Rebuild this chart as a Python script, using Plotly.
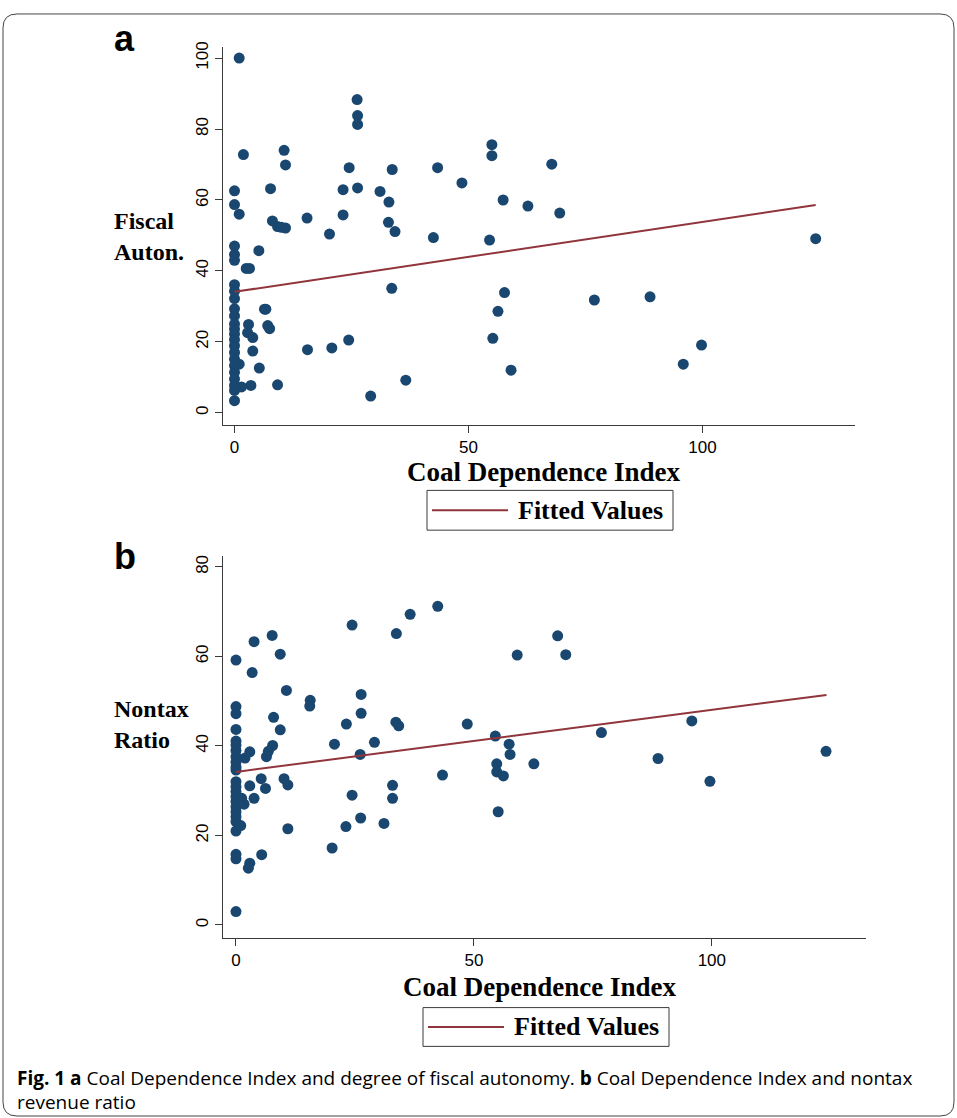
import plotly.graph_objects as go

W, H = 957, 1118

# ---------------- data: panel a ----------------
cdi_a = [0, 0, 0, 0, 0, 0, 0, 0, 0, 0, 0, 0, 0, 0, 0, 0, 0, 0, 0, 0, 0, 0, 0,
         1.0, 1.9, 1.0, 7.7, 8.1, 9.2, 10.0, 10.9, 10.6, 10.9, 15.5, 20.3, 23.2, 23.2,
         24.5, 26.2, 26.3, 26.3, 26.3, 31.1, 33.0, 33.7, 32.9, 34.3, 43.4, 48.6, 42.5,
         55.0, 55.0, 67.8, 57.4, 62.7, 69.5, 54.5, 124.2, 57.7, 56.3, 76.9, 88.8, 55.2,
         59.1, 99.8, 95.9, 5.2, 2.5, 3.2, 33.6, 6.4, 6.7, 3.0, 2.8, 3.9, 7.1, 7.5, 3.9,
         15.6, 20.8, 24.4, 5.3, 1.0, 1.5, 3.5, 9.2, 29.1, 36.6]
fiscal_auton = [62.6, 58.7, 47.0, 44.6, 43.0, 36.1, 34.3, 32.2, 29.3, 27.3, 25.0, 23.6,
                22.2, 20.6, 18.9, 17.0, 15.1, 13.3, 11.4, 9.5, 7.7, 6.3, 3.4,
                100.0, 72.8, 56.0, 63.2, 54.1, 52.5, 52.3, 52.1, 74.0, 69.9, 54.9, 50.4,
                62.9, 55.8, 69.1, 88.3, 83.8, 81.3, 63.4, 62.4, 59.4, 68.6, 53.7, 51.1,
                69.1, 64.8, 49.4, 75.6, 72.5, 70.1, 60.0, 58.3, 56.3, 48.7, 49.1, 33.9,
                28.6, 31.8, 32.7, 21.0, 12.0, 19.1, 13.7, 45.7, 40.7, 40.7, 35.1, 29.2,
                29.2, 24.9, 22.6, 21.2, 24.6, 23.7, 17.4, 17.8, 18.3, 20.5, 12.6, 13.7,
                7.3, 7.7, 7.9, 4.7, 9.2]
fit_a_x = [0, 124.2]
fit_a_y = [34.1, 58.6]

# ---------------- data: panel b ----------------
cdi_b = [0, 0, 0, 0, 0, 0, 0, 0, 0, 0, 0, 0, 0, 0, 0, 0, 0, 0, 0, 0, 0, 0, 0, 0,
         1.0, 1.2, 1.7, 1.9, 2.9, 2.9, 3.8, 5.3, 6.2, 5.4, 2.9, 2.6, 10.9, 10.1, 10.9,
         3.4, 3.8, 9.3, 7.6, 10.6, 7.9, 9.3, 7.7, 6.8, 6.4, 15.6, 15.5, 20.7, 20.2,
         23.1, 23.2, 24.4, 24.4, 26.2, 26.1, 26.3, 26.3, 29.1, 31.1, 32.9, 32.9, 33.6,
         34.2, 33.7, 36.6, 42.4, 43.4, 48.6, 54.5, 54.8, 54.8, 56.2, 55.1, 57.4, 57.6,
         59.1, 62.6, 67.6, 69.3, 76.8, 88.7, 95.8, 99.6, 124.0]
nontax_ratio = [59.2, 48.8, 47.2, 43.7, 41.1, 40.2, 39.0, 37.6, 36.4, 35.3, 34.6, 32.0,
                30.9, 29.8, 28.7, 27.6, 26.4, 25.3, 24.2, 23.1, 21.0, 15.8, 14.8, 3.0,
                22.2, 28.3, 27.0, 37.3, 38.7, 31.1, 28.3, 32.7, 30.5, 15.7, 13.8, 12.7,
                21.5, 32.7, 31.3, 56.4, 63.3, 60.5, 64.7, 52.4, 46.4, 43.6, 40.1, 38.8,
                37.6, 50.2, 48.9, 40.4, 17.2, 22.0, 44.9, 67.0, 29.0, 23.9, 38.1, 51.5,
                47.3, 40.8, 22.7, 31.2, 28.3, 45.3, 44.5, 65.1, 69.4, 71.2, 33.5, 44.9,
                42.2, 36.0, 34.2, 33.3, 25.3, 40.4, 38.1, 60.3, 36.0, 64.6, 60.4, 43.0,
                37.2, 45.6, 32.1, 38.8]
fit_b_x = [0, 124.1]
fit_b_y = [34.2, 51.4]

x_ticks = [0, 50, 100]
ya_ticks = [0, 20, 40, 60, 80, 100]
yb_ticks = [0, 20, 40, 60, 80]

NAVY = "#1a476f"
MAROON = "#90353b"
AXC = "#3a3a3a"
SANS = "Liberation Sans, Arial, sans-serif"
SERIF = "Liberation Serif, Times New Roman, serif"


def px(x):
    return x / W


def py(y):
    return 1 - y / H


fig = go.Figure()
fig.add_trace(go.Scatter(x=cdi_a, y=fiscal_auton, mode="markers",
                         marker=dict(color=NAVY, size=11, line=dict(width=0)),
                         xaxis="x", yaxis="y", showlegend=False))
fig.add_trace(go.Scatter(x=fit_a_x, y=fit_a_y, mode="lines",
                         line=dict(color=MAROON, width=2),
                         xaxis="x", yaxis="y", showlegend=False))
fig.add_trace(go.Scatter(x=cdi_b, y=nontax_ratio, mode="markers",
                         marker=dict(color=NAVY, size=11, line=dict(width=0)),
                         xaxis="x2", yaxis="y2", showlegend=False))
fig.add_trace(go.Scatter(x=fit_b_x, y=fit_b_y, mode="lines",
                         line=dict(color=MAROON, width=2),
                         xaxis="x2", yaxis="y2", showlegend=False))

axis_common = dict(showline=True, linecolor=AXC, linewidth=1, ticks="outside",
                   ticklen=7, tickcolor=AXC, tickwidth=1, showgrid=False,
                   zeroline=False, tickfont=dict(family=SANS, size=17, color="black"))

# panel geometry (pixels)
a_left, a_right, a_top, a_bot = 223, 855, 41.7, 421
b_left, b_right, b_top, b_bot = 223, 866, 552.7, 937

fig.update_layout(
    width=W, height=H,
    margin=dict(l=0, r=0, t=0, b=0),
    paper_bgcolor="white", plot_bgcolor="white",
    showlegend=False,
    xaxis=dict(domain=[px(a_left), px(a_right)], range=[-2.46, 132.6],
               tickvals=x_ticks, anchor="y", **axis_common),
    yaxis=dict(domain=[py(a_bot), py(a_top)], range=[-3.37, 103.0],
               tickvals=ya_ticks, tickangle=-90, anchor="x", **axis_common),
    xaxis2=dict(domain=[px(b_left), px(b_right)], range=[-2.73, 132.4],
                tickvals=x_ticks, anchor="y2", **axis_common),
    yaxis2=dict(domain=[py(b_bot), py(b_top)], range=[-2.9, 82.5],
                tickvals=yb_ticks, tickangle=-90, anchor="x2", **axis_common),
)

ann = []
shapes = []


def text(x, y, s, size, family, xanchor="center", yanchor="middle", align="left"):
    ann.append(dict(x=px(x), y=py(y), xref="paper", yref="paper", text=s,
                    showarrow=False, xanchor=xanchor, yanchor=yanchor, align=align,
                    font=dict(family=family, size=size, color="black")))


# panel letters
text(112, 33, "<b>a</b>", 36, SANS, xanchor="left")
text(112, 553, "<b>b</b>", 36, SANS, xanchor="left")

# y titles
text(112, 232, "<b>Fiscal<br>Auton.</b>", 24, SERIF, xanchor="left")
text(112, 722, "<b>Nontax<br>Ratio</b>", 24, SERIF, xanchor="left")

# x titles
text(544, 469, "<b>Coal Dependence Index</b>", 27, SERIF)
text(540, 986, "<b>Coal Dependence Index</b>", 27, SERIF)

# legends
for (lx0, ly0, lx1, ly1) in [(427, 487, 673, 527), (423, 1007, 669, 1046)]:
    shapes.append(dict(type="rect", xref="paper", yref="paper",
                       x0=px(lx0), x1=px(lx1), y0=py(ly1), y1=py(ly0),
                       line=dict(color=AXC, width=1), fillcolor="white"))
    ym = (ly0 + ly1) / 2
    shapes.append(dict(type="line", xref="paper", yref="paper",
                       x0=px(lx0 + 5), x1=px(lx0 + 81), y0=py(ym), y1=py(ym),
                       line=dict(color=MAROON, width=2)))
    text(lx0 + 89, ym, "<b>Fitted Values</b>", 26, SERIF, xanchor="left")

# caption
cap1 = ("<b>Fig. 1 a</b> Coal Dependence Index and degree of fiscal autonomy. "
        "<b>b</b> Coal Dependence Index and nontax")
cap2 = "revenue ratio"
CAPF = "Open Sans, sans-serif"
text(15, 1078, cap1, 19, CAPF, xanchor="left")
text(15, 1102, cap2, 19, CAPF, xanchor="left")

# rounded frame
fx0, fy0, fx1, fy1, r = 3, 8, 954, 1116, 14
path = (f"M {px(fx0 + r)} {py(fy0)} L {px(fx1 - r)} {py(fy0)} "
        f"Q {px(fx1)} {py(fy0)} {px(fx1)} {py(fy0 + r)} "
        f"L {px(fx1)} {py(fy1 - r)} Q {px(fx1)} {py(fy1)} {px(fx1 - r)} {py(fy1)} "
        f"L {px(fx0 + r)} {py(fy1)} Q {px(fx0)} {py(fy1)} {px(fx0)} {py(fy1 - r)} "
        f"L {px(fx0)} {py(fy0 + r)} Q {px(fx0)} {py(fy0)} {px(fx0 + r)} {py(fy0)} Z")
shapes.append(dict(type="path", xref="paper", yref="paper", path=path,
                   line=dict(color="#444444", width=1)))

fig.update_layout(annotations=ann, shapes=shapes)
fig.write_html("out.html", config={"displayModeBar": False},
               post_script="document.body.style.margin='0';document.body.style.overflow='hidden';")
